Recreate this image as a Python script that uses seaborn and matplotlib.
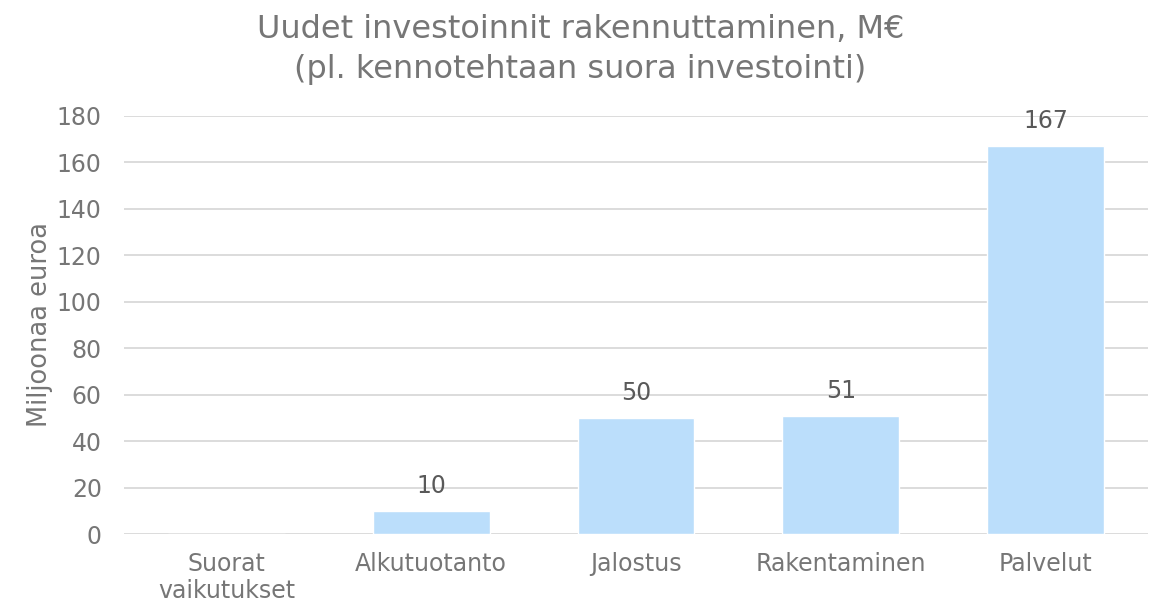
import matplotlib
matplotlib.use("Agg")
import matplotlib.pyplot as plt
import seaborn as sns
import pandas as pd

categories = ["Suorat\nvaikutukset", "Alkutuotanto", "Jalostus", "Rakentaminen", "Palvelut"]
values = [0, 10, 50, 51, 167]
labels = ["", "10", "50", "51", "167"]
yticks = [0, 20, 40, 60, 80, 100, 120, 140, 160, 180]
title_lines = ["Uudet investoinnit rakennuttaminen, M€", "(pl. kennotehtaan suora investointi)"]

sns.set_style("white")
plt.rcParams['font.family'] = ['DejaVu Sans']

grey = "#767676"
df = pd.DataFrame({"cat": categories, "val": values})
fig = plt.figure(figsize=(11.61, 6.06), dpi=100)
ax = fig.add_axes([0.1068, 0.1188, 0.882, 0.6898])
sns.barplot(data=df, x="cat", y="val", color="#BBDEFB", saturation=1, width=0.57, ax=ax, zorder=3)
ax.set_ylim(0, 180)
ax.set_xlim(-0.5, 4.5)
ax.set_yticks(yticks)
ax.yaxis.grid(True, color="#D9D9D9", linewidth=1.3, zorder=0)
ax.set_axisbelow(True)
for s in ax.spines.values():
    s.set_visible(False)
ax.tick_params(axis="both", length=0, labelsize=17, colors=grey)
ax.tick_params(axis="y", pad=16)
ax.tick_params(axis="x", pad=13)
for t in ax.get_xticklabels():
    t.set_linespacing(1.15)
ax.set_xlabel("")
ax.set_ylabel("Miljoonaa euroa", fontsize=18.5, color=grey, labelpad=3)
for i, (v, l) in enumerate(zip(values, labels)):
    if l:
        ax.text(i, v + 5.5, l, ha="center", va="bottom", fontsize=17, color="#595959")
fig.text(0.5, 0.9505, title_lines[0], ha="center", va="center", fontsize=23, color=grey)
fig.text(0.5, 0.8845, title_lines[1], ha="center", va="center", fontsize=23, color=grey)
fig.savefig("out.png", dpi=100)
